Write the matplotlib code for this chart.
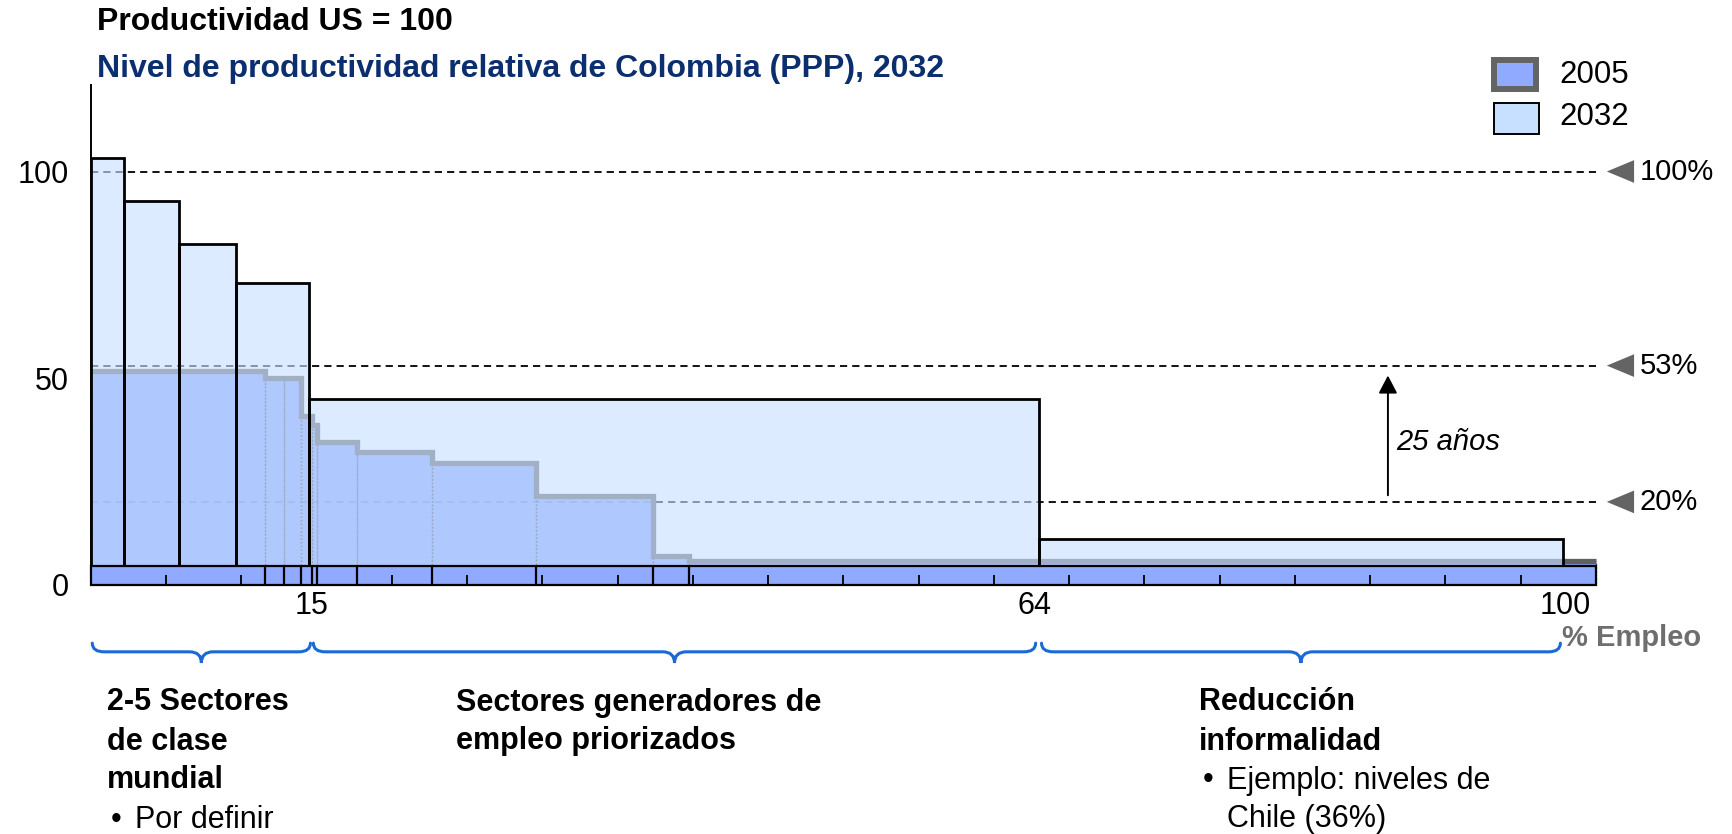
import numpy as np
import matplotlib
matplotlib.use('Agg')
import matplotlib.pyplot as plt
from matplotlib.patches import Rectangle, Polygon, PathPatch
from matplotlib.path import Path

plt.rcParams['font.family'] = ['Liberation Sans', 'DejaVu Sans']

W, H = 1733, 834

# 2032 target: employment share (bar width) and productivity, US = 100 (bar top)
emp_2032 = [2.27, 3.71, 3.84, 5.0, 49.51, 35.55]
prod_2032 = [103.2, 92.9, 82.5, 72.9, 44.9, 11.0]

# 2005 starting point, same axis (2005 total employment spans 102.1 units)
emp_2005 = [11.82, 1.29, 1.13, 0.79, 0.34, 2.71, 5.05, 7.07, 7.92, 2.48, 61.5]
prod_2005 = [51.7, 50.1, 50.0, 40.7, 38.6, 34.4, 32.0, 29.5, 21.5, 7.0, 5.8]

# ticks on the 2005 employment band, every 5% of 2005 employment
band_ticks_2005 = [5, 10, 15, 20, 25, 30, 35, 40, 45, 50, 55, 60, 65, 70, 75, 80, 85, 90, 95]

ref_levels = [100, 53, 20]
ref_labels = ['100%', '53%', '20%']

x_ticks = [15, 64, 100]
y_ticks = [0, 50, 100]

brace_spans = [(0.1, 14.9), (15.1, 64.1), (64.5, 99.7)]
group_titles = ['2-5 Sectores\nde clase\nmundial', 'Sectores generadores de\nempleo priorizados',
                'Reducción\ninformalidad']
group_bullets = ['Por definir', None, 'Ejemplo: niveles de\nChile (36%)']

C_2005 = '#7496ff'
C_2005_SOLID = '#8faaff'
C_2032 = '#c8e0ff'
C_OUTLINE = '#606060'
C_BRACE = '#1a69d6'
C_NAVY = '#0b2e6f'
band_top = 4.5


def fx(x):
    return x / W


def fy(y):
    return 1 - y / H


def edges_from(widths):
    return np.concatenate([[0], np.cumsum(widths)])


def brace(ax, x0, x1, y_top, y_mid, y_tip, r):
    xm = (x0 + x1) / 2
    verts = [(x0, y_top), (x0, y_mid), (x0 + r, y_mid),
             (xm - r, y_mid),
             (xm, y_mid), (xm, y_tip),
             (xm, y_mid), (xm + r, y_mid),
             (x1 - r, y_mid),
             (x1, y_mid), (x1, y_top)]
    codes = [Path.MOVETO, Path.CURVE3, Path.CURVE3,
             Path.LINETO,
             Path.CURVE3, Path.CURVE3,
             Path.CURVE3, Path.CURVE3,
             Path.LINETO,
             Path.CURVE3, Path.CURVE3]
    ax.add_patch(PathPatch(Path(verts, codes), fill=False, edgecolor=C_BRACE,
                           lw=2.2, clip_on=False, capstyle='round'))


fig = plt.figure(figsize=(W / 100, H / 100), dpi=100)
ax = fig.add_axes([90.8 / W, (H - 584.5) / H, 110 * 14.74 / W, 121 * 4.13 / H])
ax.set_xlim(0, 110)
ax.set_ylim(0, 121)

for side in ['top', 'right', 'bottom']:
    ax.spines[side].set_visible(False)
ax.spines['left'].set_linewidth(1.4)
ax.spines['left'].set_zorder(7)

ax.set_yticks(y_ticks)
ax.set_xticks(x_ticks)
ax.tick_params(axis='y', length=0, pad=16, labelsize=22)
ax.tick_params(axis='x', length=0, pad=5, labelsize=22)

e05 = edges_from(emp_2005)
e32 = edges_from(emp_2032)

# reference productivity levels
ax.hlines(ref_levels, 0, e05[-1], colors='black', linestyles=(0, (4, 2.8)), lw=1.3, zorder=1)

# 2005 bars with the step outline of the 2005 profile
ax.bar(e05[:-1], prod_2005, width=emp_2005, align='edge', color=C_2005, alpha=0.87,
       edgecolor='none', zorder=2)
ax.bar(e05[:-1], prod_2005, width=emp_2005, align='edge', fill=False,
       edgecolor='#505050', linestyle=':', lw=1.0, zorder=2.2)
ax.stairs(prod_2005, e05, baseline=None, color=C_OUTLINE, lw=3.8, zorder=2.5)

# 2032 bars on top, semi transparent so 2005 shows through
h32 = np.array(prod_2032) - band_top
ax.bar(e32[:-1], h32, bottom=band_top, width=emp_2032, align='edge', color=C_2032,
       alpha=0.63, edgecolor='none', zorder=3)
ax.bar(e32[:-1], h32, bottom=band_top, width=emp_2032, align='edge', fill=False,
       edgecolor='black', lw=2.0, zorder=4)

# employment band along the bottom
ax.add_patch(Rectangle((0, 0), e05[-1], band_top, facecolor=C_2005_SOLID,
                       edgecolor='black', lw=1.6, zorder=5, clip_on=False))
ax.vlines(e05[1:-1], 0, band_top, colors='black', lw=1.6, zorder=6)
band_scale = e05[-1] / 100
ax.vlines(np.array(band_ticks_2005) * band_scale, 0, 2.4, colors='black', lw=1.3, zorder=6)

# level markers on the right
for lvl, lab in zip(ref_levels, ref_labels):
    ax.add_patch(Polygon([(102.85, lvl), (104.7, lvl + 2.75), (104.7, lvl - 2.75)],
                         closed=True, facecolor='#646464', edgecolor='none', clip_on=False))
    ax.text(105.1, lvl, lab, ha='left', va='center', fontsize=21)

# growth arrow 20% -> 53%
ax.annotate('', xy=(88.0, 50.6), xytext=(88.0, 21.6),
            arrowprops=dict(arrowstyle='-|>,head_length=0.4,head_width=0.21',
                            mutation_scale=27, color='black', lw=1.4,
                            shrinkA=0, shrinkB=0), zorder=6)
ax.text(88.55, 34.6, '25 años', ha='left', va='center', fontsize=21, style='italic')

ax.text(fx(1561.6), fy(637.7), '% Empleo', transform=fig.transFigure, ha='left',
        va='center', fontsize=21, fontweight='bold', color='#6e6e6e')

# group braces under the axis
for x0, x1 in brace_spans:
    brace(ax, x0, x1, -14.2, -16.3, -19.0, 0.8)

# group captions
title_x = [107.2, 456.4, 1199.0]
line_px = 39.0
for tx, title, bullet in zip(title_x, group_titles, group_bullets):
    y = 702.5
    for ln in title.split('\n'):
        fig.text(fx(tx), fy(y), ln, ha='left', va='center', fontsize=22, fontweight='bold')
        y += line_px
    if bullet:
        fig.text(fx(tx + 3.5), fy(y), '•', ha='left', va='center', fontsize=22)
        for ln in bullet.split('\n'):
            fig.text(fx(tx + 28), fy(y), ln, ha='left', va='center', fontsize=22)
            y += line_px

# titles
fig.text(fx(97), fy(22), 'Productividad US = 100', ha='left', va='center', fontsize=23,
         fontweight='bold', color='black')
fig.text(fx(97), fy(69), 'Nivel de productividad relativa de Colombia (PPP), 2032', ha='left',
         va='center', fontsize=23, fontweight='bold', color=C_NAVY)

# legend
fig.add_artist(Rectangle((fx(1494), fy(88.5)), 42.5 / W, 28 / H, transform=fig.transFigure,
                         facecolor=C_2005_SOLID, edgecolor='#646464', lw=4.3))
fig.add_artist(Rectangle((fx(1494.3), fy(133.5)), 44.7 / W, 31 / H, transform=fig.transFigure,
                         facecolor=C_2032, edgecolor='black', lw=1.4))
fig.text(fx(1559), fy(75), '2005', ha='left', va='center', fontsize=22.5)
fig.text(fx(1559), fy(117), '2032', ha='left', va='center', fontsize=22.5)

fig.savefig('out.png', dpi=100)
